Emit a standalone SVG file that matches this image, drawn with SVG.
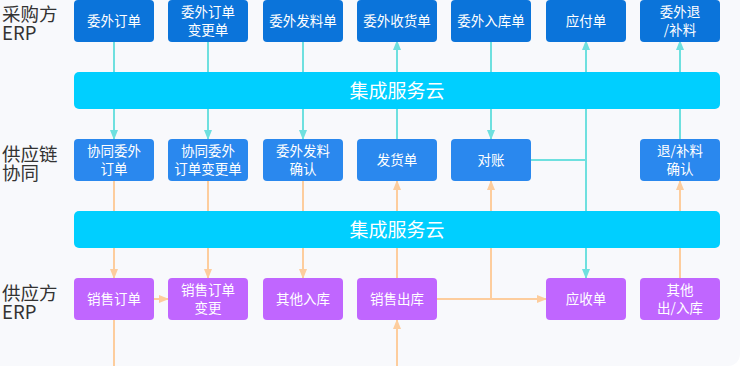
<svg xmlns="http://www.w3.org/2000/svg" width="740" height="366" viewBox="0 0 740 366">
<defs>
<style>
.t1{fill:#0b74da}
.t2{fill:#2a88ee}
.t3{fill:#c066ff}
.cloud{fill:#00cfff}
.bt{font-family:"Noto Sans CJK SC","Noto Sans",sans-serif;font-size:13.5px;fill:#fff;text-anchor:middle}
.ct{font-family:"Noto Sans CJK SC","Noto Sans",sans-serif;font-size:19px;fill:#fff;text-anchor:middle}
.lt{font-family:"Noto Sans CJK SC","Noto Sans",sans-serif;font-size:18.5px;fill:#333}
.te{stroke:#6ee0df;stroke-width:2;fill:none}
.or{stroke:#fdcd9d;stroke-width:2;fill:none}
</style>
<marker id="at" markerWidth="10" markerHeight="8" refX="9" refY="4" orient="auto" markerUnits="userSpaceOnUse"><path d="M0,0 L10,4 L0,8 Z" fill="#6ee0df"/></marker>
<marker id="ao" markerWidth="10" markerHeight="8" refX="9" refY="4" orient="auto" markerUnits="userSpaceOnUse"><path d="M0,0 L10,4 L0,8 Z" fill="#fdcd9d"/></marker>
</defs>
<rect x="0" y="0" width="740" height="366" fill="#ffffff"/>
<rect x="-20" y="-20" width="760" height="386" rx="12" fill="#f8f9fc"/>

<g id="labels">
<text class="lt" x="2" y="21">采购方<tspan x="2" dy="19">ERP</tspan></text>
<text class="lt" x="2" y="161">供应链<tspan x="2" dy="19">协同</tspan></text>
<text class="lt" x="2" y="300">供应方<tspan x="2" dy="19">ERP</tspan></text>
</g>

<g id="connectors">
<line class="te" x1="114" y1="41" x2="114" y2="139" marker-end="url(#at)"/>
<line class="te" x1="208" y1="41" x2="208" y2="139" marker-end="url(#at)"/>
<line class="te" x1="303" y1="41" x2="303" y2="139" marker-end="url(#at)"/>
<line class="te" x1="397" y1="139" x2="397" y2="41" marker-end="url(#at)"/>
<line class="te" x1="491" y1="41" x2="491" y2="139" marker-end="url(#at)"/>
<line class="te" x1="586" y1="160" x2="586" y2="41" marker-end="url(#at)"/>
<line class="te" x1="586" y1="160" x2="586" y2="278" marker-end="url(#at)"/>
<line class="te" x1="531" y1="160" x2="587" y2="160"/>
<line class="te" x1="680" y1="139" x2="680" y2="41" marker-end="url(#at)"/>

<line class="or" x1="114" y1="181" x2="114" y2="278" marker-end="url(#ao)"/>
<line class="or" x1="114" y1="320" x2="114" y2="366"/>
<line class="or" x1="208" y1="181" x2="208" y2="278" marker-end="url(#ao)"/>
<line class="or" x1="303" y1="181" x2="303" y2="278" marker-end="url(#ao)"/>
<line class="or" x1="397" y1="278" x2="397" y2="181" marker-end="url(#ao)"/>
<line class="or" x1="397" y1="366" x2="397" y2="320" marker-end="url(#ao)"/>
<line class="or" x1="491" y1="299" x2="491" y2="181" marker-end="url(#ao)"/>
<line class="or" x1="436" y1="299" x2="546" y2="299" marker-end="url(#ao)"/>
<line class="or" x1="680" y1="278" x2="680" y2="181" marker-end="url(#ao)"/>
<line class="or" x1="153" y1="299" x2="168" y2="299" marker-end="url(#ao)"/>
</g>

<g id="cloud1"><rect class="cloud" x="74" y="72" width="646" height="37" rx="5"/><text class="ct" x="397" y="97.5">集成服务云</text></g>
<g id="cloud2"><rect class="cloud" x="74" y="211" width="646" height="37" rx="5"/><text class="ct" x="397" y="236.5">集成服务云</text></g>

<g id="n-wwdd"><rect class="t1" x="74" y="0" width="80" height="42" rx="4"/><text class="bt" x="114" y="26">委外订单</text></g>
<g id="n-wwddbg"><rect class="t1" x="168" y="0" width="80" height="42" rx="4"/><text class="bt" x="208" y="17">委外订单<tspan x="208" dy="18">变更单</tspan></text></g>
<g id="n-wwfl"><rect class="t1" x="263" y="0" width="80" height="42" rx="4"/><text class="bt" x="303" y="26">委外发料单</text></g>
<g id="n-wwsh"><rect class="t1" x="357" y="0" width="80" height="42" rx="4"/><text class="bt" x="397" y="26">委外收货单</text></g>
<g id="n-wwrk"><rect class="t1" x="451" y="0" width="80" height="42" rx="4"/><text class="bt" x="491" y="26">委外入库单</text></g>
<g id="n-yfd"><rect class="t1" x="546" y="0" width="80" height="42" rx="4"/><text class="bt" x="586" y="26">应付单</text></g>
<g id="n-wwtbl"><rect class="t1" x="640" y="0" width="80" height="42" rx="4"/><text class="bt" x="680" y="17">委外退<tspan x="680" dy="18">/补料</tspan></text></g>

<g id="n-xtwwdd"><rect class="t2" x="74" y="139" width="80" height="42" rx="4"/><text class="bt" x="114" y="156">协同委外<tspan x="114" dy="18">订单</tspan></text></g>
<g id="n-xtwwddbg"><rect class="t2" x="168" y="139" width="80" height="42" rx="4"/><text class="bt" x="208" y="156">协同委外<tspan x="208" dy="18">订单变更单</tspan></text></g>
<g id="n-wwflqr"><rect class="t2" x="263" y="139" width="80" height="42" rx="4"/><text class="bt" x="303" y="156">委外发料<tspan x="303" dy="18">确认</tspan></text></g>
<g id="n-fhd"><rect class="t2" x="357" y="139" width="80" height="42" rx="4"/><text class="bt" x="397" y="165">发货单</text></g>
<g id="n-dz"><rect class="t2" x="451" y="139" width="80" height="42" rx="4"/><text class="bt" x="491" y="165">对账</text></g>
<g id="n-tblqr"><rect class="t2" x="640" y="139" width="80" height="42" rx="4"/><text class="bt" x="680" y="156">退/补料<tspan x="680" dy="18">确认</tspan></text></g>

<g id="n-xsdd"><rect class="t3" x="74" y="278" width="80" height="42" rx="4"/><text class="bt" x="114" y="304">销售订单</text></g>
<g id="n-xsddbg"><rect class="t3" x="168" y="278" width="80" height="42" rx="4"/><text class="bt" x="208" y="295">销售订单<tspan x="208" dy="18">变更</tspan></text></g>
<g id="n-qtrk"><rect class="t3" x="263" y="278" width="80" height="42" rx="4"/><text class="bt" x="303" y="304">其他入库</text></g>
<g id="n-xsck"><rect class="t3" x="357" y="278" width="80" height="42" rx="4"/><text class="bt" x="397" y="304">销售出库</text></g>
<g id="n-ysd"><rect class="t3" x="546" y="278" width="80" height="42" rx="4"/><text class="bt" x="586" y="304">应收单</text></g>
<g id="n-qtcrk"><rect class="t3" x="640" y="278" width="80" height="42" rx="4"/><text class="bt" x="680" y="295">其他<tspan x="680" dy="18">出/入库</tspan></text></g>
</svg>
